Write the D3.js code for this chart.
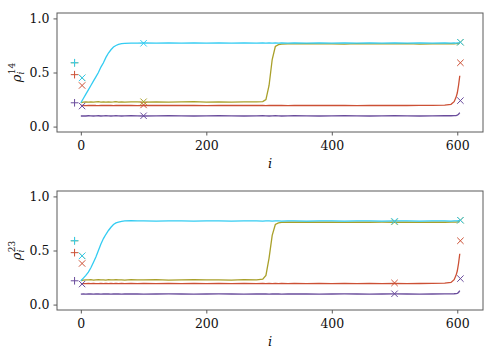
<!DOCTYPE html>
<html>
<head>
<meta charset="utf-8">
<script src="https://cdn.jsdelivr.net/npm/d3@7"></script>
<style>
  body { margin: 0; background: #fff; }
</style>
</head>
<body>
<div id="main"></div>
<script>
// sample positions along i
var steps = [0,4,8,12,16,20,24,28,32,36,40,44,48,52,56,60,65,70,80,90,100,
  120,140,160,180,200,220,240,260,280,290,295,300,305,310,315,320,
  330,340,360,380,400,420,440,460,480,500,520,540,560,580,590,595,598,600,602,604];

// panel 1 (rho^14)
var cyanTop = [0.22,0.26,0.30,0.34,0.38,0.42,0.46,0.50,0.55,0.59,0.64,0.68,0.71,0.735,0.75,0.76,0.767,0.77,0.772,0.771,0.773,
  0.772,0.774,0.771,0.773,0.772,0.774,0.772,0.773,0.771,0.773,0.772,0.774,0.772,0.773,0.771,0.773,
  0.772,0.774,0.772,0.773,0.771,0.773,0.772,0.774,0.772,0.773,0.771,0.773,0.772,0.774,0.772,0.773,0.772,0.773,0.774,0.775];
var oliveTop = [0.222,0.226,0.228,0.227,0.229,0.226,0.228,0.230,0.227,0.228,0.226,0.229,0.227,0.228,0.230,0.227,0.228,0.226,0.229,0.228,0.227,
  0.229,0.226,0.228,0.230,0.227,0.228,0.226,0.229,0.228,0.231,0.25,0.38,0.62,0.74,0.758,0.763,
  0.765,0.764,0.766,0.764,0.765,0.763,0.766,0.764,0.765,0.764,0.766,0.763,0.765,0.764,0.766,0.765,0.766,0.767,0.768,0.770];
var redTop = [0.195,0.196,0.194,0.196,0.195,0.197,0.195,0.194,0.196,0.195,0.197,0.195,0.196,0.194,0.196,0.195,0.197,0.195,0.196,0.194,0.196,
  0.195,0.197,0.195,0.196,0.194,0.196,0.195,0.197,0.195,0.196,0.194,0.196,0.195,0.197,0.195,0.196,
  0.194,0.196,0.195,0.197,0.195,0.196,0.194,0.196,0.195,0.197,0.195,0.196,0.197,0.199,0.206,0.23,0.27,0.31,0.38,0.47];
var purpleTop = [0.098,0.099,0.098,0.100,0.099,0.098,0.099,0.100,0.098,0.099,0.100,0.099,0.098,0.099,0.100,0.099,0.098,0.099,0.100,0.099,0.098,
  0.099,0.100,0.099,0.098,0.099,0.100,0.099,0.098,0.099,0.100,0.099,0.098,0.099,0.100,0.099,0.098,
  0.099,0.100,0.099,0.098,0.099,0.100,0.099,0.098,0.099,0.100,0.099,0.098,0.099,0.100,0.100,0.101,0.102,0.105,0.113,0.13];

// panel 2 (rho^23)
var cyanBot = [0.22,0.245,0.27,0.30,0.34,0.39,0.44,0.50,0.56,0.61,0.65,0.685,0.715,0.74,0.755,0.763,0.77,0.773,0.775,0.773,0.774,
  0.772,0.774,0.773,0.772,0.774,0.773,0.772,0.774,0.773,0.772,0.774,0.773,0.772,0.774,0.773,0.772,
  0.774,0.773,0.772,0.774,0.773,0.772,0.774,0.773,0.772,0.774,0.773,0.772,0.774,0.773,0.772,0.774,0.773,0.774,0.775,0.776];
var oliveBot = [0.222,0.227,0.229,0.228,0.230,0.227,0.229,0.231,0.228,0.229,0.227,0.230,0.228,0.229,0.231,0.228,0.229,0.227,0.230,0.229,0.228,
  0.230,0.227,0.229,0.231,0.228,0.229,0.227,0.230,0.229,0.235,0.27,0.43,0.64,0.74,0.755,0.760,
  0.762,0.761,0.763,0.761,0.762,0.760,0.763,0.761,0.762,0.761,0.763,0.760,0.762,0.761,0.763,0.762,0.763,0.764,0.765,0.767];
var redBot = [0.192,0.194,0.193,0.195,0.194,0.196,0.194,0.193,0.195,0.194,0.196,0.194,0.195,0.193,0.195,0.194,0.196,0.194,0.195,0.193,0.195,
  0.194,0.196,0.194,0.195,0.193,0.195,0.194,0.196,0.194,0.195,0.193,0.195,0.194,0.196,0.194,0.195,
  0.193,0.195,0.194,0.196,0.194,0.195,0.193,0.195,0.194,0.196,0.194,0.195,0.196,0.198,0.205,0.23,0.27,0.31,0.38,0.47];
var purpleBot = [0.097,0.098,0.097,0.099,0.098,0.097,0.098,0.099,0.097,0.098,0.099,0.098,0.097,0.098,0.099,0.098,0.097,0.098,0.099,0.098,0.097,
  0.098,0.099,0.098,0.097,0.098,0.099,0.098,0.097,0.098,0.099,0.098,0.097,0.098,0.099,0.098,0.097,
  0.098,0.099,0.098,0.097,0.098,0.099,0.098,0.097,0.098,0.099,0.098,0.097,0.098,0.099,0.099,0.100,0.101,0.104,0.112,0.13];

// markers: order purple, red, olive, cyan
var plusI = -10;
var plusVals = [0.22, 0.48, 0.59, 0.59];
var startI = 2;
var startVals = [0.19, 0.38, 0.45, 0.45];
var midTopI = 100;
var midTopVals = [0.10, 0.20, 0.23, 0.77];
var midBotI = 500;
var midBotVals = [0.10, 0.20, 0.765, 0.77];
var endI = 605;
var endVals = [0.24, 0.59, 0.78, 0.78];

var xTicks = [0, 200, 400, 600];
var yTicks = [0.0, 0.5, 1.0];
var colors = ['#6a4c9c', '#cc5035', '#a9a02a', '#33ccf2'];
var serif = '"DejaVu Serif", serif';

var width = 497, height = 360;
var svg = d3.select("#main").append("svg")
  .attr("width", width).attr("height", height);

var panels = [
  {top: 13, bottom: 132, sup: "14", series: [purpleTop, redTop, oliveTop, cyanTop], midI: midTopI, midVals: midTopVals},
  {top: 191, bottom: 310, sup: "23", series: [purpleBot, redBot, oliveBot, cyanBot], midI: midBotI, midVals: midBotVals}
];

var left = 57, right = 483;
var x = d3.scaleLinear().domain([-38, 641]).range([left, right]);

function drawX(g, xi, yv, c) {
  var cx = x(xi), cy = yv, s = 3.2;
  g.append('path')
    .attr('d', 'M' + (cx - s) + ',' + (cy - s) + 'L' + (cx + s) + ',' + (cy + s) +
      'M' + (cx - s) + ',' + (cy + s) + 'L' + (cx + s) + ',' + (cy - s))
    .attr('stroke', c).attr('stroke-width', 1).attr('fill', 'none');
}
function drawPlus(g, xi, yv, c) {
  var cx = x(xi), cy = yv, s = 3.8;
  g.append('path')
    .attr('d', 'M' + (cx - s) + ',' + cy + 'L' + (cx + s) + ',' + cy +
      'M' + cx + ',' + (cy - s) + 'L' + cx + ',' + (cy + s))
    .attr('stroke', c).attr('stroke-width', 1).attr('fill', 'none');
}

panels.forEach(function(p) {
  var y = d3.scaleLinear().domain([-0.05, 1.05]).range([p.bottom, p.top]);
  var g = svg.append('g');

  var line = d3.line()
    .x(function(d, k) { return x(steps[k]); })
    .y(function(d) { return y(d); });

  p.series.forEach(function(vals, k) {
    g.append('path')
      .datum(vals)
      .attr('d', line)
      .attr('fill', 'none')
      .attr('stroke', colors[k])
      .attr('stroke-width', 1.3);
  });

  for (var k = 0; k < 4; k++) {
    drawPlus(g, plusI, y(plusVals[k]), colors[k]);
    drawX(g, startI, y(startVals[k]), colors[k]);
    drawX(g, p.midI, y(p.midVals[k]), colors[k]);
    drawX(g, endI, y(endVals[k]), colors[k]);
  }

  // frame
  g.append('rect')
    .attr('x', left).attr('y', p.top)
    .attr('width', right - left).attr('height', p.bottom - p.top)
    .attr('fill', 'none').attr('stroke', '#5a5a5a').attr('stroke-width', 1);

  var xAxis = g.append('g')
    .attr('transform', 'translate(0,' + p.bottom + ')')
    .call(d3.axisBottom(x).tickValues(xTicks).tickSize(3.5).tickPadding(6)
      .tickFormat(d3.format('d')));
  var yAxis = g.append('g')
    .attr('transform', 'translate(' + left + ',0)')
    .call(d3.axisLeft(y).tickValues(yTicks).tickSize(3.5).tickPadding(4)
      .tickFormat(d3.format('.1f')));
  [xAxis, yAxis].forEach(function(a) {
    a.attr('font-family', null);
    a.select('.domain').remove();
    a.selectAll('.tick line').attr('stroke', '#5a5a5a');
    a.selectAll('.tick text').attr('fill', '#111')
      .style('font-family', serif).style('font-size', '12.5px');
  });

  g.append('text')
    .attr('x', (left + right) / 2).attr('y', p.bottom + 36)
    .attr('text-anchor', 'middle')
    .style('font-family', serif)
    .style('font-size', '13px').style('font-style', 'italic')
    .attr('fill', '#111')
    .text('i');

  var yl = g.append('text')
    .attr('transform', 'translate(21,' + ((p.top + p.bottom) / 2) + ') rotate(-90)')
    .attr('text-anchor', 'middle')
    .attr('fill', '#111')
    .style('font-family', serif)
    .style('font-size', '13px');
  yl.append('tspan').style('font-style', 'italic').text('ρ');
  yl.append('tspan').style('font-style', 'italic').style('font-size', '9px')
    .attr('dy', 3).text('i');
  yl.append('tspan').style('font-size', '9px')
    .attr('dx', -2.5).attr('dy', -9).text(p.sup);
});
</script>
</body>
</html>
